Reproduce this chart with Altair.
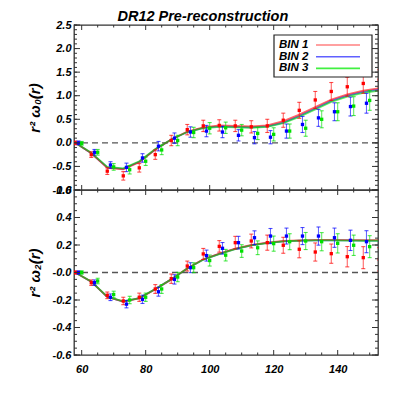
import altair as alt
import pandas as pd
import numpy as np

# ---------------- data ----------------
r_bins = [58, 63, 68, 73, 78, 83, 88, 93, 98, 103, 108, 113, 118, 123, 128, 133, 138, 143, 148, 153]
series = ["BIN 1", "BIN 2", "BIN 3"]
r_shift = {"BIN 1": 0.0, "BIN 2": 1.0, "BIN 3": 2.0}
colors = ["#ff0000", "#0000ff", "#00e000"]
legend_colors = ["#ff8080", "#6060ff", "#40f040"]

# monopole  r^2 xi_0
w0_bin1 = [0.0, -0.25, -0.60, -0.70, -0.53, -0.25, 0.05, 0.28, 0.36, 0.37, 0.36, 0.34, 0.36, 0.48, 0.69, 0.91, 1.09, 1.19, 1.26, 1.33]
w0_bin2 = [0.0, -0.20, -0.47, -0.52, -0.32, -0.07, 0.10, 0.23, 0.25, 0.23, 0.16, 0.11, 0.12, 0.25, 0.39, 0.53, 0.66, 0.77, 0.84, 0.90]
w0_bin3 = [-0.01, -0.20, -0.51, -0.57, -0.39, -0.15, 0.05, 0.22, 0.31, 0.32, 0.27, 0.20, 0.18, 0.25, 0.31, 0.50, 0.66, 0.78, 0.90, 0.95]
w0_err = [0.04, 0.06, 0.07, 0.09, 0.09, 0.10, 0.11, 0.11, 0.12, 0.12, 0.12, 0.13, 0.14, 0.15, 0.17, 0.18, 0.19, 0.20, 0.21, 0.22]
w0_model1 = [0.0, -0.22, -0.53, -0.56, -0.41, -0.14, 0.07, 0.24, 0.33, 0.37, 0.36, 0.35, 0.37, 0.46, 0.60, 0.76, 0.92, 1.03, 1.11, 1.16]
w0_model2 = [0.0, -0.22, -0.52, -0.55, -0.40, -0.14, 0.07, 0.23, 0.32, 0.35, 0.34, 0.33, 0.35, 0.43, 0.57, 0.73, 0.89, 1.00, 1.08, 1.13]
w0_model3 = [0.0, -0.21, -0.51, -0.54, -0.39, -0.13, 0.07, 0.23, 0.31, 0.34, 0.33, 0.32, 0.34, 0.42, 0.55, 0.71, 0.87, 0.98, 1.06, 1.11]

# quadrupole r^2 xi_2
w2_bin1 = [0.0, -0.074, -0.166, -0.207, -0.18, -0.12, -0.045, 0.047, 0.135, 0.19, 0.217, 0.229, 0.217, 0.198, 0.169, 0.149, 0.137, 0.115, 0.108, 0.096]
w2_bin2 = [0.0, -0.074, -0.18, -0.23, -0.195, -0.14, -0.05, 0.035, 0.123, 0.176, 0.217, 0.253, 0.265, 0.265, 0.265, 0.265, 0.253, 0.234, 0.224, 0.22]
w2_bin3 = [0.0, -0.062, -0.16, -0.20, -0.18, -0.12, -0.033, 0.035, 0.087, 0.126, 0.156, 0.18, 0.21, 0.224, 0.229, 0.224, 0.212, 0.198, 0.188, 0.18]
w2_err = [0.012, 0.02, 0.024, 0.027, 0.03, 0.032, 0.034, 0.036, 0.04, 0.042, 0.046, 0.05, 0.055, 0.058, 0.062, 0.066, 0.07, 0.074, 0.08, 0.085]
w2_model1 = [0.0, -0.067, -0.178, -0.212, -0.188, -0.122, -0.05, 0.03, 0.096, 0.137, 0.173, 0.2, 0.217, 0.229, 0.234, 0.237, 0.237, 0.236, 0.235, 0.235]
w2_model2 = [0.0, -0.067, -0.177, -0.211, -0.187, -0.121, -0.05, 0.029, 0.094, 0.135, 0.171, 0.198, 0.215, 0.227, 0.232, 0.234, 0.234, 0.233, 0.232, 0.232]
w2_model3 = [0.0, -0.066, -0.176, -0.210, -0.186, -0.120, -0.049, 0.029, 0.093, 0.134, 0.170, 0.197, 0.214, 0.226, 0.231, 0.233, 0.233, 0.232, 0.231, 0.231]

x_major = [60, 80, 100, 120, 140]
x_minor = [65, 70, 75, 85, 90, 95, 105, 110, 115, 125, 130, 135, 145, 150]
top_major = [-1.0, -0.5, 0.0, 0.5, 1.0, 1.5, 2.0, 2.5]
bot_major = [-0.6, -0.4, -0.2, 0.0, 0.2, 0.4, 0.6]

W, H = 304, 165
XDOM = [57.6, 152.6]
FONT = "Liberation Sans, Arial, sans-serif"
NARROW = "Liberation Sans Narrow, Liberation Sans, sans-serif"


def points_df(vals, err):
    rows = []
    for s, v in zip(series, vals):
        for r, y, e in zip(r_bins, v, err):
            rows.append({"r": r + r_shift[s], "v": y, "lo": y - e, "hi": y + e, "series": s})
    return pd.DataFrame(rows)


def model_df(models):
    rows = []
    for s, m in zip(series, models):
        for r, y in zip(r_bins, m):
            rows.append({"r": r, "v": y, "series": s})
    return pd.DataFrame(rows)


def minor_ticks(lo, hi, step):
    n = int(round((hi - lo) / step))
    return [round(lo + i * step, 4) for i in range(n + 1)]


color_scale = alt.Scale(domain=series, range=colors)


def panel(pts, mod, ydom, ymajor, yminor, ytitle, label_expr, show_x, legend):
    xscale = alt.Scale(domain=XDOM, nice=False, zero=False)
    yscale = alt.Scale(domain=ydom, nice=False, zero=False)
    if show_x:
        xaxis = alt.Axis(values=x_major, labels=True, ticks=False, domain=False, grid=False,
                         title=None, labelFont=FONT, labelFontSize=11, labelFontWeight="bold",
                         labelFontStyle="italic", labelPadding=8, labelFlush=False,
                         labelColor="#000")
    else:
        xaxis = None
    yaxis = alt.Axis(values=ymajor, ticks=False, domain=False, grid=False, title=ytitle,
                     labelExpr=label_expr, labelFont=FONT, labelFontSize=11,
                     labelFontWeight="bold", labelFontStyle="italic", labelPadding=3,
                     labelColor="#000", labelOverlap=False, labelFlush=False, labelBound=False,
                     titleFont=FONT, titleFontSize=15, titleFontWeight="bold",
                     titleFontStyle="italic", titleColor="#000", titlePadding=10)

    def X(f):
        return alt.X(f, type="quantitative", scale=xscale, axis=xaxis)

    def Y(f):
        return alt.Y(f, type="quantitative", scale=yscale, axis=yaxis)

    col = alt.Color("series:N", scale=color_scale, legend=None)

    zero = alt.Chart(pd.DataFrame({"v": [0.0]})).mark_rule(
        color="#555", strokeDash=[6, 4], strokeWidth=1.3
    ).encode(y=Y("v"))

    lines = []
    for s in ["BIN 2", "BIN 1", "BIN 3"]:
        lines.append(alt.Chart(mod[mod.series == s]).mark_line(
            strokeWidth=1.8, opacity=0.6, clip=True).encode(
            x=X("r"), y=Y("v"), color=col))

    bars = alt.Chart(pts).mark_rule(strokeWidth=1.1, opacity=0.6, clip=True).encode(
        x=X("r"), y=Y("lo"), y2="hi", color=col)
    cap_lo = alt.Chart(pts).mark_tick(orient="horizontal", size=4, thickness=1.1,
                                      opacity=0.7, clip=True).encode(x=X("r"), y=Y("lo"), color=col)
    cap_hi = alt.Chart(pts).mark_tick(orient="horizontal", size=4, thickness=1.1,
                                      opacity=0.7, clip=True).encode(x=X("r"), y=Y("hi"), color=col)
    dots = alt.Chart(pts).mark_square(size=11, opacity=1, clip=True).encode(
        x=X("r"), y=Y("v"), color=col)

    layers = [zero] + lines + [bars, cap_lo, cap_hi, dots]

    tick_col = "#333"
    ymaj = pd.DataFrame({"v": ymajor})
    ymin = pd.DataFrame({"v": yminor})
    xmaj = pd.DataFrame({"r": x_major})
    xmin = pd.DataFrame({"r": x_minor})
    for df, ln in ((ymaj, 6), (ymin, 3)):
        layers.append(alt.Chart(df).mark_rule(color=tick_col, strokeWidth=1).encode(
            y=Y("v"), x=alt.value(0), x2=alt.value(ln)))
        layers.append(alt.Chart(df).mark_rule(color=tick_col, strokeWidth=1).encode(
            y=Y("v"), x=alt.value(W), x2=alt.value(W - ln)))
    for df, ln in ((xmaj, 5), (xmin, 2.5)):
        layers.append(alt.Chart(df).mark_rule(color=tick_col, strokeWidth=1).encode(
            x=X("r"), y=alt.value(H), y2=alt.value(H - ln)))
        layers.append(alt.Chart(df).mark_rule(color=tick_col, strokeWidth=1).encode(
            x=X("r"), y=alt.value(0), y2=alt.value(ln)))

    if legend:
        box = alt.Chart(pd.DataFrame({"a": [0]})).mark_rect(
            fill="white", stroke="#222", strokeWidth=1.2).encode(
            x=alt.value(200), x2=alt.value(298), y=alt.value(10), y2=alt.value(52))
        layers.append(box)
        for i, (s, c) in enumerate(zip(series, legend_colors)):
            yy = 20 + i * 11.7
            layers.append(alt.Chart(pd.DataFrame({"t": [s]})).mark_text(
                font=NARROW, fontSize=11.5, fontWeight="bold", fontStyle="italic",
                align="left", baseline="middle", color="#000").encode(
                text="t:N", x=alt.value(205), y=alt.value(yy)))
            layers.append(alt.Chart(pd.DataFrame({"t": [s]})).mark_rule(
                color=c, strokeWidth=1.6).encode(
                x=alt.value(242), x2=alt.value(286), y=alt.value(yy)))

    return alt.layer(*layers).properties(width=W, height=H)


top = panel(points_df([w0_bin1, w0_bin2, w0_bin3], w0_err),
            model_df([w0_model1, w0_model2, w0_model3]),
            [-1.0, 2.5], top_major, minor_ticks(-1.0, 2.5, 0.1),
            "r² ω₀(r)",
            "replace(format(datum.value, '.1f'), '\u2212', '-')",
            False, True)

bottom = panel(points_df([w2_bin1, w2_bin2, w2_bin3], w2_err),
               model_df([w2_model1, w2_model2, w2_model3]),
               [-0.6, 0.6], bot_major, minor_ticks(-0.6, 0.6, 0.05),
               "r² ω₂(r)",
               "datum.value == 0 ? '-0.0' : replace(format(datum.value, '.1f'), '\u2212', '-')",
               True, False)

chart = alt.vconcat(top, bottom, spacing=0, bounds="flush").properties(
    title=alt.TitleParams("DR12 Pre-reconstruction", font=FONT, fontSize=14.5,
                          fontWeight="bold", fontStyle="italic", color="#000",
                          anchor="middle", offset=-6),
    padding={"left": 18, "top": 0, "right": 5, "bottom": 5},
).configure_view(stroke="#333", strokeWidth=1.3)

chart.save("out.html", embed_options={"renderer": "svg", "actions": False})
